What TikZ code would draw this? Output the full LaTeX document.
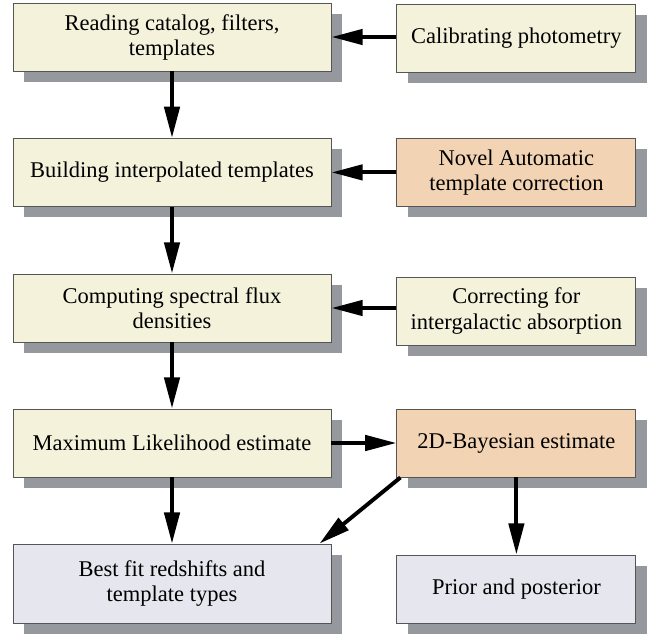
\documentclass[tikz,border=0pt]{standalone}
\usepackage{fontspec}
\setmainfont{Liberation Serif}
\usetikzlibrary{arrows.meta,shadows}
\definecolor{creamfill}{HTML}{F5F2DC}
\definecolor{peachfill}{HTML}{F2D4B4}
\definecolor{lilacfill}{HTML}{E6E6EE}
\definecolor{shadowgray}{HTML}{95989C}
\definecolor{edgegray}{HTML}{555555}

\begin{document}
\begin{tikzpicture}[
  stepbox/.style={draw=edgegray, line width=0.7pt, minimum height=1.7cm, inner sep=0pt,
    align=center, font=\fontsize{16}{17.8}\selectfont,
    drop shadow={shadow xshift=0.275cm, shadow yshift=-0.275cm, fill=shadowgray, opacity=1}},
  leftbox/.style={stepbox, minimum width=7.95cm},
  rightbox/.style={stepbox, minimum width=5.975cm},
  flow/.style={line width=2.8pt, -{Triangle[length=0.78cm, width=0.38cm]}}
]
\useasboundingbox (0, 0) rectangle (16.275, -15.875);

\node[leftbox, fill=creamfill] (read) at (4.3, -0.925) {Reading catalog, filters,\\ templates};
\node[rightbox, fill=creamfill] (calib) at (12.91, -0.95) {Calibrating photometry};

\node[leftbox, fill=creamfill] (build) at (4.3, -4.31) {Building interpolated templates};
\node[rightbox, fill=peachfill] (novel) at (12.91, -4.31) {Novel Automatic\\ template correction};

\node[leftbox, fill=creamfill] (comp) at (4.3, -7.7) {Computing spectral flux\\ densities};
\node[rightbox, fill=creamfill] (corr) at (12.91, -7.775) {Correcting for\\ intergalactic absorption};

\node[leftbox, fill=creamfill] (ml) at (4.3, -11.075) {Maximum Likelihood estimate};
\node[rightbox, fill=peachfill] (bay) at (12.91, -11.075) {2D-Bayesian estimate};

\node[leftbox, fill=lilacfill, minimum height=1.975cm] (best) at (4.3, -14.59) {Best fit redshifts and\\ template types};
\node[rightbox, fill=lilacfill] (post) at (12.91, -14.725) {Prior and posterior};

\draw[flow] (calib.west |- read) -- (read.east);
\draw[flow] (novel) -- (build);
\draw[flow] (corr.west |- comp) -- (comp.east);
\draw[flow] (ml) -- (bay);

\draw[flow] (read) -- (build);
\draw[flow] (build) -- (comp);
\draw[flow] (comp) -- (ml);
\draw[flow] (ml) -- (best);
\draw[flow] (bay) -- (post);
\draw[flow] ([xshift=0.1cm]bay.south west) -- ([xshift=-0.3cm]best.north east);
\end{tikzpicture}
\end{document}
